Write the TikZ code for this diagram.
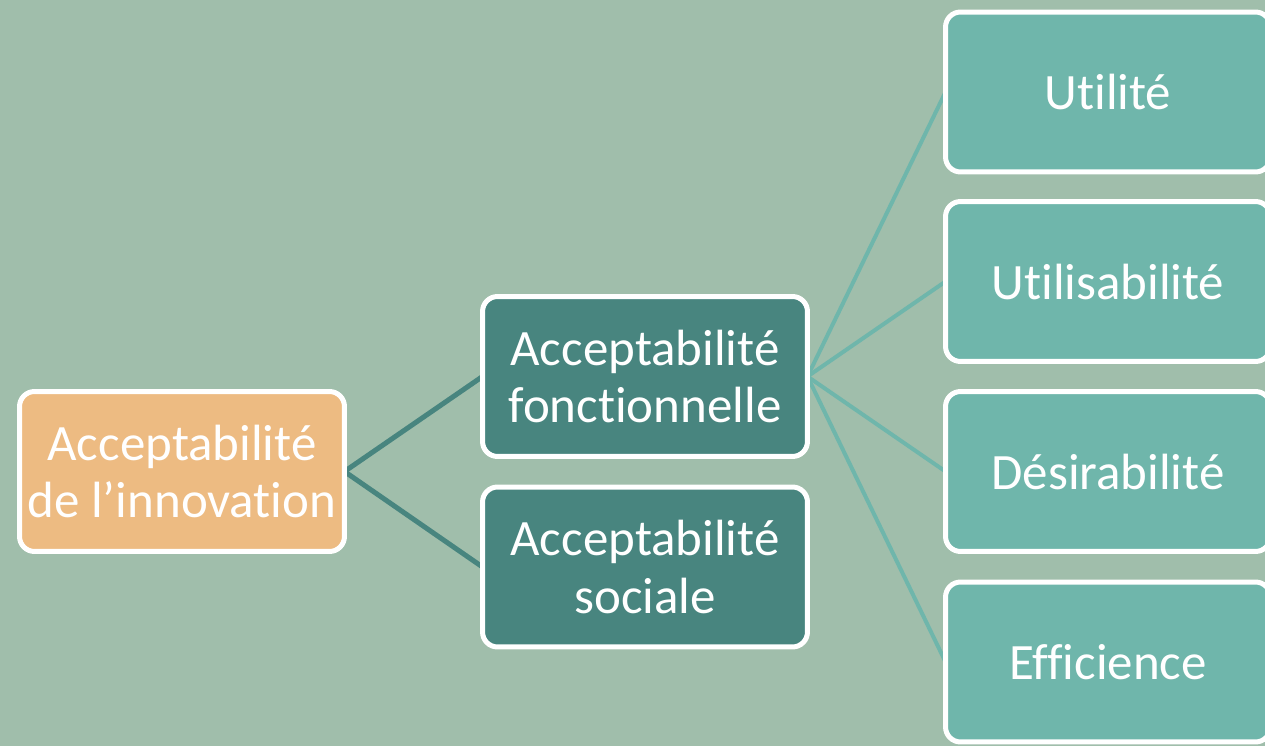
\documentclass[tikz,border=0pt]{standalone}
\usepackage{fontspec}
\setmainfont{Carlito}[Ligatures={NoCommon,NoContextual}]
\usepackage{tikz}
\usetikzlibrary{positioning}
\pgfdeclarelayer{canvas}
\pgfdeclarelayer{bg}
\pgfsetlayers{canvas,bg,main}

\definecolor{bgGreen}{HTML}{A0BEAB}
\definecolor{rootOrange}{HTML}{EDBB82}
\definecolor{midTeal}{HTML}{48857F}
\definecolor{leafTeal}{HTML}{6FB6AB}

\begin{document}
\begin{tikzpicture}[
x=0.02cm, y=-0.02cm,
box/.style={rectangle, rounded corners=0.3cm, draw=white, line width=0.1cm, text=white, align=center,
  minimum width=6.5cm, minimum height=3.2cm, outer sep=0pt,
  font=\fontsize{29}{33}\selectfont},
rootbox/.style={box, fill=rootOrange},
midbox/.style={box, fill=midTeal},
leafbox/.style={box, fill=leafTeal},
midline/.style={draw=midTeal, line width=0.1cm},
leafline/.style={draw=leafTeal, line width=0.08cm},
]

\clip (0,0) rectangle (1265,746);
\begin{pgfonlayer}{canvas}
\fill[bgGreen] (0,0) rectangle (1265,746);
\end{pgfonlayer}

\node[rootbox] (innov) at (182,471.5) {Acceptabilité\\de l’innovation};
\node[midbox] (fonc) at (645,376.5) {Acceptabilité\\fonctionnelle};
\node[midbox] (soc) at (645,567) {Acceptabilité\\sociale};

\node[leafbox] (util) at (1108,92) {Utilité};
\node[leafbox] (usab) at (1108,281.5) {Utilisabilité};
\node[leafbox] (desir) at (1108,471.5) {Désirabilité};
\node[leafbox] (effic) at (1108,662) {Efficience};

\begin{pgfonlayer}{bg}
\draw[midline] (innov.east) -- (fonc.west);
\draw[midline] (innov.east) -- (soc.west);

\draw[leafline] (fonc.east) -- (util.west);
\draw[leafline] (fonc.east) -- (usab.west);
\draw[leafline] (fonc.east) -- (desir.west);
\draw[leafline] (fonc.east) -- (effic.west);
\end{pgfonlayer}

\end{tikzpicture}
\end{document}
